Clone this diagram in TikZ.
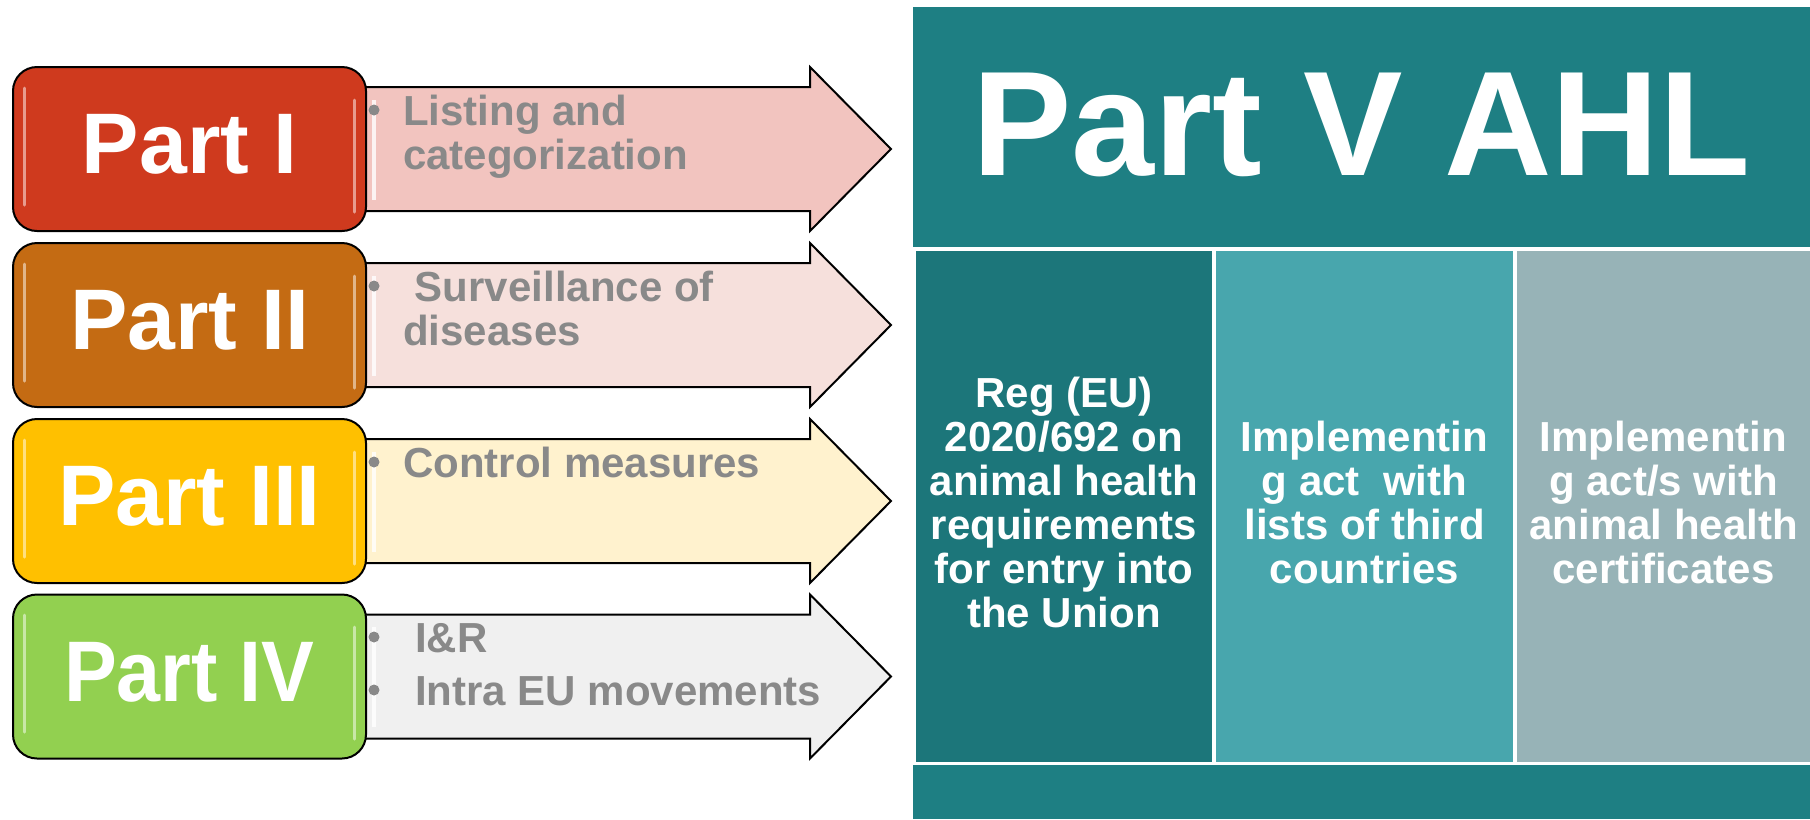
\documentclass[tikz,border=0pt]{standalone}
\usepackage{fontspec}
\setmainfont{Liberation Sans}
\usetikzlibrary{positioning}

\definecolor{partIfill}{RGB}{207,58,30}
\definecolor{partIIfill}{RGB}{196,107,19}
\definecolor{partIIIfill}{RGB}{255,192,0}
\definecolor{partIVfill}{RGB}{146,208,80}
\definecolor{arrowIfill}{RGB}{242,196,191}
\definecolor{arrowIIfill}{RGB}{246,224,220}
\definecolor{arrowIIIfill}{RGB}{255,242,206}
\definecolor{arrowIVfill}{RGB}{240,240,240}
\definecolor{bulletgray}{RGB}{137,137,137}
\definecolor{ahlteal}{RGB}{30,127,131}
\definecolor{regteal}{RGB}{28,118,122}
\definecolor{listteal}{RGB}{72,166,173}
\definecolor{certgray}{RGB}{151,179,183}

\tikzset{
  partbox/.style={draw=black, line width=1.5pt, rounded corners=18pt, minimum width=264.75pt, minimum height=123pt, inner sep=0pt, text=white, font=\fontsize{64.5}{64.5}\selectfont\bfseries, text depth=7.5pt},
  partarrow/.style={draw=black, line width=1.5pt, line join=miter},
  shine/.style={white, opacity=0.5, line width=2.25pt, line cap=round},
  bulletdot/.style={circle, fill=bulletgray, inner sep=0pt, minimum size=8.25pt},
  bullettext/.style={anchor=base west, inner sep=0pt, text=bulletgray, font=\fontsize{31.5}{33}\selectfont\bfseries},
  coltext/.style={anchor=base, inner sep=0pt, text=white, font=\fontsize{31.5}{33}\selectfont\bfseries},
}

\begin{document}
\begin{tikzpicture}[x=0.75pt,y=0.75pt,yscale=-1,xscale=1]
%set diagram left start at 0, and has height of 819
\useasboundingbox (0,0) rectangle (1810,819);
\fill[white] (0,0) rectangle (1810,819);

%Shape: Arrow Part I
\draw[partarrow, fill=arrowIfill] (340,87) -- (810,87) -- (810,67) -- (891,149) -- (810,231) -- (810,211) -- (340,211) -- cycle;
\draw[white, opacity=0.8, line width=3pt] (374,100) -- (374,200);
%Shape: Rounded Rect Part I
\node[partbox, fill=partIfill] (partI) at (189.5,149) {Part I};
\draw[shine] (24,88) -- (24,205);
\draw[shine] (354,100) -- (354,212);
% Text Node
\node[bulletdot] (dotI) at (374,110) {};
\node[bullettext] (listing) at (403,125) {\begin{tabular}[t]{@{}l@{}}Listing and\\categorization\end{tabular}};

%Shape: Arrow Part II
\draw[partarrow, fill=arrowIIfill] (340,263) -- (810,263) -- (810,243) -- (891,325) -- (810,407) -- (810,387) -- (340,387) -- cycle;
\draw[white, opacity=0.8, line width=3pt] (374,276) -- (374,376);
%Shape: Rounded Rect Part II
\node[partbox, fill=partIIfill] (partII) at (189.5,325) {Part II};
\draw[shine] (24,264) -- (24,381);
\draw[shine] (354,276) -- (354,388);
% Text Node
\node[bulletdot] (dotII) at (374,286) {};
\node[bullettext] (surveillance) at (403,301) {\begin{tabular}[t]{@{}l@{}}\ Surveillance of\\diseases\end{tabular}};

%Shape: Arrow Part III
\draw[partarrow, fill=arrowIIIfill] (340,439) -- (810,439) -- (810,419) -- (891,501) -- (810,583) -- (810,563) -- (340,563) -- cycle;
\draw[white, opacity=0.8, line width=3pt] (374,452) -- (374,552);
%Shape: Rounded Rect Part III
\node[partbox, fill=partIIIfill] (partIII) at (189.5,501) {Part III};
\draw[shine] (24,440) -- (24,557);
\draw[shine] (354,452) -- (354,564);
% Text Node
\node[bulletdot] (dotIII) at (374,462) {};
\node[bullettext] (control) at (403,477) {Control measures};

%Shape: Arrow Part IV
\draw[partarrow, fill=arrowIVfill] (340,614.5) -- (810,614.5) -- (810,594.5) -- (891,676.5) -- (810,758.5) -- (810,738.5) -- (340,738.5) -- cycle;
\draw[white, opacity=0.8, line width=3pt] (374,627) -- (374,727);
%Shape: Rounded Rect Part IV
\node[partbox, fill=partIVfill] (partIV) at (189.5,676.5) {\scalebox{0.92}[1]{Part IV}};
\draw[shine] (24,615) -- (24,732);
\draw[shine] (354,627) -- (354,739);
% Text Node
\node[bulletdot] (dotIVa) at (374,637) {};
\node[bullettext] (inr) at (415,652) {I\&R};
\node[bulletdot] (dotIVb) at (374,690) {};
\node[bullettext] (intra) at (415,705) {Intra EU movements};

%Shape: Rectangle Part V
\fill[ahlteal] (913,7) rectangle (1810,247);
% Text Node
\node[anchor=base, inner sep=0pt, text=white, font=\fontsize{111.75}{112}\selectfont\bfseries] (ahl) at (1361.5,175) {Part V AHL};

%Shape: Columns
\fill[regteal] (916,251) rectangle (1212,762);
\fill[listteal] (1216,251) rectangle (1513,762);
\fill[certgray] (1517,251) rectangle (1810,762);
\fill[ahlteal] (913,765) rectangle (1810,819);

% Text Node
\node[coltext] (reg) at (1064,407) {\begin{tabular}[t]{@{}c@{}}Reg (EU)\\2020/692 on\\animal health\\requirements\\for entry into\\the Union\end{tabular}};
% Text Node
\node[coltext] (thirdc) at (1364.5,451) {\begin{tabular}[t]{@{}c@{}}Implementin\\g act\ \ with\\lists of third\\countries\end{tabular}};
% Text Node
\node[coltext] (certs) at (1663.5,451) {\begin{tabular}[t]{@{}c@{}}Implementin\\g act/s with\\animal health\\certificates\end{tabular}};

\end{tikzpicture}
\end{document}
